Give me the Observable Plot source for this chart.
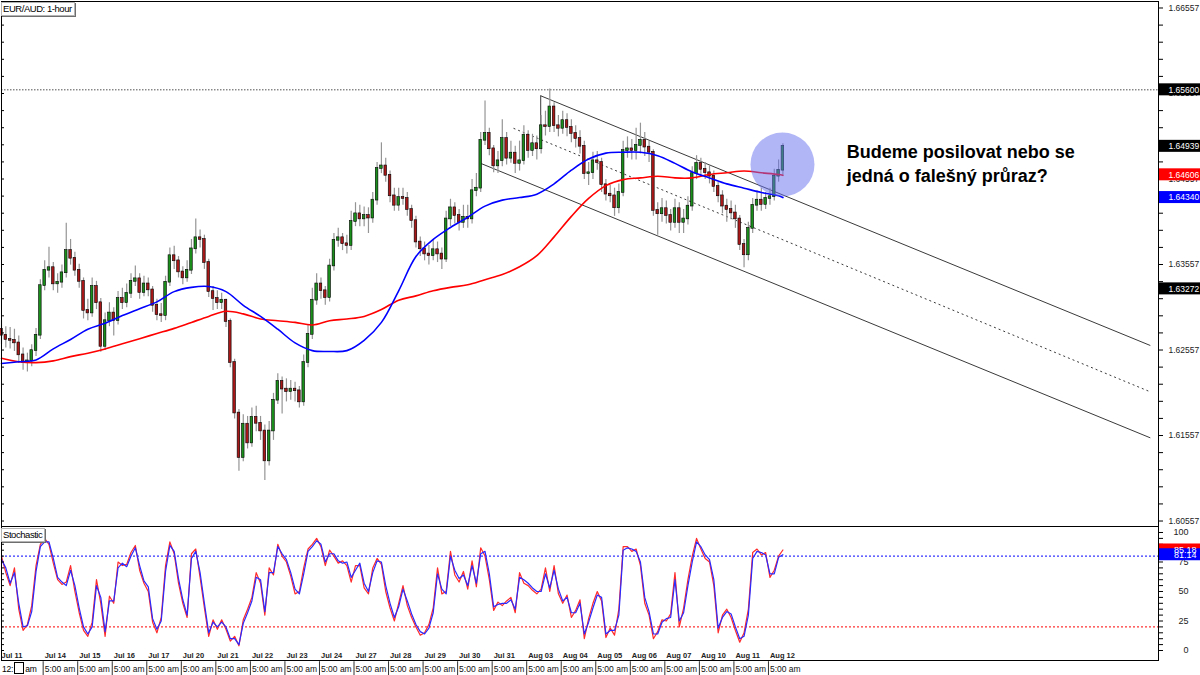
<!DOCTYPE html>
<html>
<head>
<meta charset="utf-8">
<script src="https://cdn.jsdelivr.net/npm/d3@7"></script>
<script src="https://cdn.jsdelivr.net/npm/@observablehq/plot@0.6"></script>
<style>
html,body{margin:0;padding:0;background:#fff;}
#wrap{position:relative;width:1200px;height:675px;overflow:hidden;background:#fff;font-family:"Liberation Sans",Arial,sans-serif;}
#wrap > .panel{position:absolute;left:0;}
#wrap svg{display:block;overflow:visible;}
.lg{position:absolute;background:#fff;border:1px solid #b4b4b4;box-shadow:1px 1px 0 #6e6e6e;color:#000;font-size:9.5px;letter-spacing:-0.45px;line-height:12px;padding:0 2px 0 1px;white-space:nowrap;}
#t0{position:absolute;left:2px;top:662px;font-size:8.5px;letter-spacing:-0.2px;line-height:12px;color:#000;white-space:nowrap;}
#t0 span{display:inline-block;width:8px;height:10px;border:1px solid #000;background:#fff;vertical-align:-2px;margin:0 1px;}
g[aria-label="lbl"] text{letter-spacing:-0.6px;}
g[aria-label="lbl2"] text{letter-spacing:-0.25px;}
g[aria-label="lbl3"] text{letter-spacing:-0.3px;}
</style>
</head>
<body>
<div id="wrap">
  <div class="panel" id="main" style="top:0"></div>
  <div class="panel" id="stoch" style="top:525px"></div>
  <div class="lg" style="left:1px;top:2px;">EUR/AUD: 1-hour</div>
  <div class="lg" style="left:1px;top:528px;">Stochastic</div>
  <div id="t0">12:<span></span>am</div>
</div>
<script>
// ---------------- DATA (3-hour candles) ----------------
const firstOpen = 1.6280;
const closes = [
1.6273,1.6268,1.6267,1.6264,1.6250,1.6241,1.6243,1.6255,1.6273,1.6331,
1.6349,1.6352,1.6333,1.6335,1.6346,1.6372,1.6363,1.6349,1.6336,1.6302,
1.6299,1.6330,1.6311,1.6260,1.6290,1.6299,1.6290,1.6316,1.6311,1.6322,
1.6336,1.6339,1.6323,1.6333,1.6326,1.6308,1.6297,1.6296,1.6335,1.6366,
1.6360,1.6347,1.6340,1.6349,1.6374,1.6387,1.6385,1.6358,1.6324,1.6316,
1.6311,1.6314,1.6289,1.6241,1.6182,1.6130,1.6169,1.6147,1.6177,1.6170,
1.6161,1.6126,1.6161,1.6197,1.6219,1.6210,1.6207,1.6210,1.6208,1.6195,
1.6241,1.6274,1.6314,1.6333,1.6325,1.6317,1.6354,1.6384,1.6387,1.6380,
1.6378,1.6406,1.6415,1.6409,1.6413,1.6410,1.6431,1.6468,1.6471,1.6460,
1.6436,1.6425,1.6434,1.6433,1.6420,1.6407,1.6382,1.6374,1.6368,1.6366,
1.6373,1.6368,1.6362,1.6409,1.6422,1.6413,1.6405,1.6411,1.6409,1.6442,
1.6445,1.6501,1.6509,1.6491,1.6471,1.6477,1.6503,1.6480,1.6486,1.6474,
1.6477,1.6507,1.6489,1.6497,1.6491,1.6518,1.6517,1.6540,1.6518,1.6515,
1.6524,1.6516,1.6509,1.6503,1.6494,1.6462,1.6463,1.6477,1.6475,1.6449,
1.6438,1.6436,1.6422,1.6440,1.6489,1.6491,1.6489,1.6495,1.6501,1.6493,
1.6487,1.6419,1.6415,1.6421,1.6413,1.6405,1.6421,1.6405,1.6409,1.6424,
1.6462,1.6474,1.6467,1.6463,1.6459,1.6447,1.6436,1.6424,1.6420,1.6416,
1.6409,1.6379,1.6367,1.6398,1.6425,1.6431,1.6426,1.6433,1.6435,1.6459,
1.6466,1.6494];
const highs = [
1.6290,1.6283,1.6282,1.6280,1.6272,1.6258,1.6252,1.6262,1.6281,1.6338,
1.6360,1.6376,1.6358,1.6345,1.6355,1.6404,1.6385,1.6370,1.6356,1.6340,
1.6315,1.6340,1.6336,1.6316,1.6299,1.6311,1.6305,1.6324,1.6328,1.6333,
1.6345,1.6354,1.6345,1.6342,1.6340,1.6330,1.6315,1.6310,1.6342,1.6375,
1.6377,1.6365,1.6353,1.6360,1.6385,1.6409,1.6396,1.6390,1.6362,1.6330,
1.6325,1.6322,1.6315,1.6292,1.6245,1.6186,1.6180,1.6178,1.6188,1.6190,
1.6178,1.6168,1.6172,1.6205,1.6228,1.6224,1.6222,1.6220,1.6218,1.6213,
1.6250,1.6285,1.6328,1.6345,1.6340,1.6330,1.6362,1.6392,1.6398,1.6392,
1.6390,1.6418,1.6428,1.6425,1.6423,1.6422,1.6440,1.6475,1.6498,1.6480,
1.6465,1.6445,1.6445,1.6445,1.6440,1.6425,1.6412,1.6388,1.6382,1.6378,
1.6385,1.6382,1.6375,1.6418,1.6432,1.6428,1.6420,1.6425,1.6425,1.6455,
1.6462,1.6510,1.6547,1.6515,1.6495,1.6488,1.6525,1.6510,1.6500,1.6494,
1.6500,1.6518,1.6512,1.6508,1.6506,1.6530,1.6535,1.6561,1.6545,1.6530,
1.6535,1.6532,1.6525,1.6518,1.6512,1.6500,1.6475,1.6487,1.6488,1.6480,
1.6455,1.6448,1.6445,1.6450,1.6500,1.6505,1.6502,1.6515,1.6521,1.6510,
1.6500,1.6490,1.6428,1.6433,1.6430,1.6420,1.6432,1.6428,1.6420,1.6435,
1.6470,1.6483,1.6480,1.6475,1.6472,1.6465,1.6452,1.6442,1.6432,1.6430,
1.6425,1.6413,1.6385,1.6405,1.6433,1.6442,1.6445,1.6440,1.6445,1.6467,
1.6478,1.6497];
const lows = [
1.6262,1.6258,1.6257,1.6254,1.6240,1.6232,1.6230,1.6236,1.6248,1.6268,
1.6325,1.6340,1.6325,1.6322,1.6328,1.6340,1.6355,1.6342,1.6328,1.6292,
1.6290,1.6294,1.6303,1.6253,1.6255,1.6283,1.6272,1.6285,1.6303,1.6305,
1.6316,1.6330,1.6315,1.6318,1.6318,1.6300,1.6290,1.6288,1.6290,1.6330,
1.6350,1.6340,1.6332,1.6335,1.6344,1.6368,1.6375,1.6350,1.6317,1.6302,
1.6303,1.6303,1.6282,1.6235,1.6175,1.6114,1.6125,1.6140,1.6142,1.6160,
1.6150,1.6103,1.6120,1.6150,1.6192,1.6181,1.6195,1.6197,1.6195,1.6188,
1.6190,1.6235,1.6268,1.6308,1.6315,1.6308,1.6312,1.6348,1.6376,1.6372,
1.6368,1.6372,1.6400,1.6400,1.6400,1.6392,1.6404,1.6425,1.6462,1.6452,
1.6428,1.6418,1.6418,1.6425,1.6412,1.6398,1.6375,1.6365,1.6360,1.6355,
1.6360,1.6358,1.6350,1.6358,1.6400,1.6403,1.6395,1.6398,1.6398,1.6403,
1.6435,1.6440,1.6495,1.6483,1.6463,1.6462,1.6470,1.6472,1.6474,1.6462,
1.6465,1.6472,1.6480,1.6482,1.6478,1.6485,1.6506,1.6510,1.6510,1.6505,
1.6508,1.6505,1.6498,1.6492,1.6485,1.6455,1.6448,1.6455,1.6466,1.6440,
1.6430,1.6428,1.6412,1.6415,1.6435,1.6480,1.6478,1.6478,1.6485,1.6482,
1.6475,1.6412,1.6390,1.6405,1.6403,1.6395,1.6398,1.6392,1.6392,1.6402,
1.6418,1.6455,1.6458,1.6455,1.6450,1.6440,1.6428,1.6415,1.6405,1.6408,
1.6398,1.6372,1.6352,1.6360,1.6392,1.6418,1.6418,1.6420,1.6425,1.6430,
1.6452,1.6460];

// moving averages sampled every 4 candles (last one at the final candle)
const maFast = [
1.6240,1.6242,1.6244,1.6257,1.6268,1.6280,1.6287,1.6296,1.6304,1.6312,
1.6324,1.6329,1.6330,1.6324,1.6308,1.6295,1.6280,1.6264,1.6255,1.6254,
1.6255,1.6267,1.6288,1.6325,1.6365,1.6385,1.6399,1.6411,1.6424,1.6431,
1.6434,1.6438,1.6450,1.6466,1.6479,1.6486,1.6487,1.6487,1.6483,1.6474,
1.6464,1.6457,1.6450,1.6445,1.6440,1.6436,1.6434];
const maSlow = [
1.6246,1.6242,1.6241,1.6243,1.6248,1.6252,1.6257,1.6263,1.6269,1.6275,
1.6281,1.6288,1.6295,1.6301,1.6298,1.6292,1.6290,1.6288,1.6285,1.6290,
1.6292,1.6295,1.6303,1.6314,1.6319,1.6325,1.6329,1.6332,1.6338,1.6344,
1.6353,1.6366,1.6388,1.6412,1.6433,1.6448,1.6455,1.6457,1.6459,1.6457,
1.6457,1.6461,1.6463,1.6465,1.6463,1.6461,1.6460];

// stochastic oscillator, one value per candle
const stochBlue = [
77,70,57,66,40,20,21,33,67,88,
92,92,78,62,58,55,68,55,36,20,
14,20,55,45,16,42,42,70,74,71,
80,87,72,59,54,27,18,25,67,89,
84,61,43,30,78,84,66,40,15,24,
20,24,20,10,10,5,23,32,42,62,
60,33,66,66,88,82,77,66,52,48,
65,84,88,93,90,75,82,82,76,74,
75,62,68,74,57,50,66,76,75,55,
40,28,37,52,42,31,22,16,14,19,
32,65,52,48,80,68,61,64,55,72,
57,82,84,65,37,39,40,40,43,35,
62,60,57,53,50,50,65,53,68,52,
42,45,32,32,40,14,24,36,47,45,
14,17,17,30,85,87,86,84,75,45,
33,14,14,24,27,28,60,25,32,55,
75,92,88,81,77,60,19,28,33,31,
20,10,12,30,78,84,83,81,65,65,
79,81.14];
const stochRed = [
80,66,55,70,35,17,22,38,72,90,
95,90,74,60,56,58,72,50,32,17,
12,24,60,40,12,46,40,75,72,73,
83,89,68,57,50,24,15,28,72,92,
82,57,40,28,82,86,62,36,12,26,
18,26,18,8,12,4,26,35,45,66,
57,30,70,64,90,80,75,63,48,50,
70,86,90,95,88,72,85,80,74,76,
72,58,72,72,53,48,70,78,73,50,
36,25,40,55,38,28,20,13,15,22,
36,70,48,50,84,64,58,67,52,76,
54,87,80,60,34,41,38,42,45,32,
66,57,55,51,48,52,70,50,72,48,
40,47,28,34,43,10,27,40,50,42,
11,19,13,35,88,88,84,86,72,40,
30,10,16,26,25,31,66,20,36,60,
80,95,86,78,75,55,15,30,35,28,
17,7,15,35,83,86,81,83,62,68,
80,85.18];

// channel (trend lines): start/end candle index and price
const chStartIdx   = [124.9, 118.6, 111.0];
const chEndIdx     = [266.1, 266.0, 266.1];
const chStartPrice = [1.6553, 1.6515, 1.6474];
const chEndPrice   = [1.6261, 1.6207, 1.6153];
const chDashed     = [false, true, false];

const resistance = 1.65600;
const majorTicks = [1.66557, 1.65557, 1.64557, 1.63557, 1.62557, 1.61557, 1.60557];
const markerPrices = [1.65600, 1.64939, 1.63272, 1.64606, 1.64340];
const markerColors = ["#000000", "#000000", "#000000", "#ff0000", "#0000ff"];
const stochTicks = [0, 25, 50, 75, 100];
const stochLevels = [80, 20];
const stochMarkerValues = [85.18, 81.14];
const stochMarkerColors = ["#ff0000", "#0000ff"];

const dayLabels = ["Jul 11","Jul 14","Jul 15","Jul 16","Jul 17","Jul 20","Jul 21","Jul 22","Jul 23","Jul 24","Jul 27","Jul 28","Jul 29","Jul 30","Jul 31","Aug 03","Aug 04","Aug 05","Aug 06","Aug 07","Aug 10","Aug 11","Aug 12"];
const dayIndex  = [0,10,18,26,34,42,50,58,66,74,82,90,98,106,114,122,130,138,146,154,162,170,178];
const sessionLabels = ["5:00 am","5:00 am","5:00 am","5:00 am","5:00 am","5:00 am","5:00 am","5:00 am","5:00 am","5:00 am","5:00 am","5:00 am","5:00 am","5:00 am","5:00 am","5:00 am","5:00 am","5:00 am","5:00 am","5:00 am","5:00 am","5:00 am"];

const annotationText = "Budeme posilovat nebo se\njedná o falešný průraz?";
const annotationIdx = 195.8, annotationPrice = 1.6500;
const highlightIdx = 180.9, highlightPrice = 1.64727;

// ---------------- LAYOUT ----------------
const FONT = "Liberation Sans, Arial, sans-serif";
const W = 1200, ML = 1, MR = 42;
const xDomain = [0, 268];
const pxPerIdx = (W - ML - MR) / (xDomain[1] - xDomain[0]);
const xAt = px => (px - ML) / pxPerIdx + xDomain[0];
const priceDomain = [1.60493, 1.66633];
const pricePerPx = (priceDomain[1] - priceDomain[0]) / 525;
const stochDomain = [-8.47, 105.08];
const stochPerPx = (stochDomain[1] - stochDomain[0]) / 134;
const BOX_X1 = xAt(1159), BOX_X2 = xAt(1201);

const candles = closes.map((c, i) => ({i, open: i ? closes[i - 1] : firstOpen, close: c, high: highs[i], low: lows[i]}));
const maIdx = d3.range(0, 181, 4).concat([181]);
const minorTicks = d3.range(0, 31).map(n => +(1.60557 + 0.002 * n).toFixed(5));
const markers = markerPrices.map((p, i) => ({p, c: markerColors[i]}));
const stochMarkers = stochMarkerValues.map((v, i) => ({v, c: stochMarkerColors[i]}));
const chSolid = d3.range(3).filter(i => !chDashed[i]);
const chDash = d3.range(3).filter(i => chDashed[i]);
const style = {background: "transparent", fontFamily: FONT, fontSize: "9px", color: "#000", overflow: "visible"};

const main = Plot.plot({
  width: W, height: 527, marginTop: 1, marginBottom: 1, marginLeft: ML, marginRight: MR,
  x: {domain: xDomain, axis: null},
  y: {domain: priceDomain, axis: null},
  style,
  marks: [
    Plot.ruleY([resistance], {stroke: "#505050", strokeDasharray: "1.5,1.5"}),
    Plot.link(chSolid, {x1: i => chStartIdx[i], y1: i => chStartPrice[i], x2: i => chEndIdx[i], y2: i => chEndPrice[i], stroke: "#3a3a3a", strokeWidth: 1}),
    Plot.link(chDash, {x1: i => chStartIdx[i], y1: i => chStartPrice[i], x2: i => chEndIdx[i], y2: i => chEndPrice[i], stroke: "#3a3a3a", strokeWidth: 1, strokeDasharray: "2,3"}),
    Plot.ruleX([chStartIdx[0]], {y1: chStartPrice[0], y2: 1.6495, stroke: "#3a3a3a", strokeWidth: 1}),
    Plot.ruleX(candles, {x: "i", y1: "low", y2: "high", stroke: "#959595", strokeWidth: 1.2}),
    Plot.rect(candles, {x1: d => d.i - 0.3, x2: d => d.i + 0.3, y1: "open", y2: "close",
      fill: d => d.close >= d.open ? "#1b8f1b" : "#a81818", stroke: "#000", strokeWidth: 0.6, insetTop: -0.4, insetBottom: -0.4}),
    Plot.line(maIdx, {x: d => d, y: (d, j) => maSlow[j], stroke: "#ff0000", strokeWidth: 1.6, curve: "catmull-rom"}),
    Plot.line(maIdx, {x: d => d, y: (d, j) => maFast[j], stroke: "#0000ff", strokeWidth: 1.6, curve: "catmull-rom"}),
    Plot.dot([0], {x: () => highlightIdx, y: () => highlightPrice, r: 32, fill: "rgb(100,110,240)", fillOpacity: 0.5, stroke: "none"}),
    Plot.text([annotationText], {x: () => annotationIdx, y: () => annotationPrice, text: d => d, textAnchor: "start", lineAnchor: "top",
      fontSize: 18, fontWeight: "bold", lineHeight: 1.34, fill: "#000", fontFamily: FONT}),
    Plot.frame({stroke: "#000", strokeWidth: 1}),
    Plot.ruleY(minorTicks, {x1: 0, x2: xAt(4), stroke: "#000"}),
    Plot.axisY({anchor: "right", ticks: minorTicks, tickSize: 4, tickFormat: () => "", label: null}),
    Plot.text(majorTicks, {y: d => d, text: d => d.toFixed(5), frameAnchor: "right", dx: 10, textAnchor: "start", fill: "#222", fontSize: 8.5, ariaLabel: "lbl"}),
    Plot.rect(markers, {x1: BOX_X1, x2: BOX_X2, y1: d => d.p - 6 * pricePerPx, y2: d => d.p + 6 * pricePerPx, fill: d => d.c}),
    Plot.text(markers, {y: "p", text: d => d.p.toFixed(5), frameAnchor: "right", dx: 10, textAnchor: "start", fill: "#fff", fontSize: 8.5, ariaLabel: "lbl"})
  ]
});
document.getElementById("main").appendChild(main);

const stoch = Plot.plot({
  width: W, height: 150, marginTop: 1, marginBottom: 15, marginLeft: ML, marginRight: MR,
  x: {domain: xDomain, axis: null},
  y: {domain: stochDomain, axis: null},
  style,
  marks: [
    Plot.ruleY([stochLevels[0]], {stroke: "#0000ff", strokeDasharray: "2,2"}),
    Plot.ruleY([stochLevels[1]], {stroke: "#ff0000", strokeDasharray: "2,2"}),
    Plot.line(stochRed, {x: (d, i) => i, y: d => d, stroke: "#ff2a2a", strokeWidth: 1.2}),
    Plot.line(stochBlue, {x: (d, i) => i, y: d => d, stroke: "#2a2aff", strokeWidth: 1.2}),
    Plot.frame({stroke: "#000", strokeWidth: 1}),
    Plot.ruleY(d3.range(0, 101, 5), {x1: 0, x2: xAt(4), stroke: "#000"}),
    Plot.axisY({anchor: "right", ticks: d3.range(0, 101, 5), tickSize: 4, tickFormat: () => "", label: null}),
    Plot.text(stochTicks, {y: d => d, text: d => String(d), frameAnchor: "right", dx: 30, textAnchor: "end", fill: "#222", fontSize: 9, ariaLabel: "lbl3"}),
    Plot.rect(stochMarkers, {x1: BOX_X1, x2: BOX_X2, y1: d => d.v - 6 * stochPerPx, y2: d => d.v + 6 * stochPerPx, fill: d => d.c}),
    Plot.text(stochMarkers, {y: "v", text: d => d.v.toFixed(2), frameAnchor: "right", dx: 38, textAnchor: "end", fill: "#fff", fontSize: 9, ariaLabel: "lbl3"}),
    Plot.text(dayLabels, {x: (d, i) => dayIndex[i], y: () => -4.3, text: d => d, textAnchor: "start", dx: 0, fontSize: 7.5, fontWeight: "bold", fill: "#222", ariaLabel: "lbl2"}),
    Plot.ruleX(dayIndex.slice(1), {x: d => d, y1: -9.5, y2: -21.5, dx: -1.5, stroke: "#333"}),
    Plot.text(sessionLabels, {x: (d, i) => dayIndex[i + 1], y: () => -15.9, text: d => d, textAnchor: "start", dx: 0, fontSize: 8.5, fill: "#111", ariaLabel: "lbl2"})
  ]
});
document.getElementById("stoch").appendChild(stoch);
</script>
</body>
</html>
